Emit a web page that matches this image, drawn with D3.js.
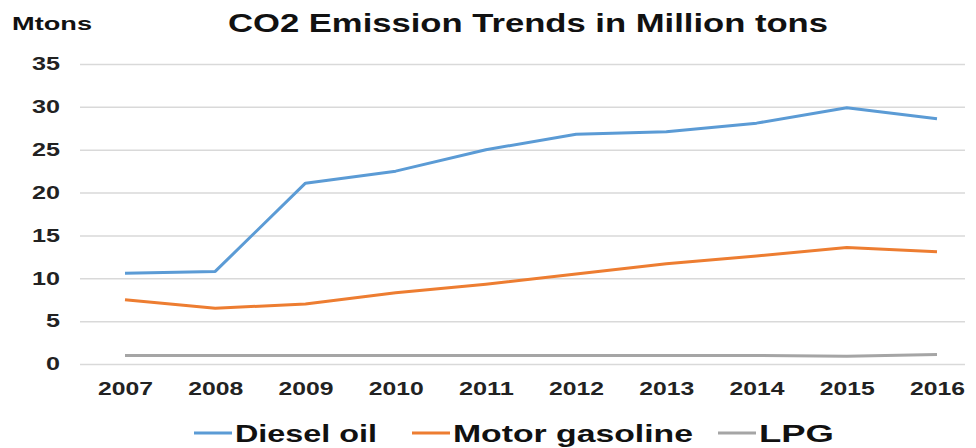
<!DOCTYPE html>
<html>
<head>
<meta charset="utf-8">
<script src="https://cdn.jsdelivr.net/npm/d3@7"></script>
<style>
  body { margin: 0; background: #fff; }
  text { font-family: "Liberation Sans", Arial, sans-serif; }
</style>
</head>
<body>
<svg id="svg" width="976" height="448"></svg>
<script>
const years = ['2007', '2008', '2009', '2010', '2011', '2012', '2013', '2014', '2015', '2016']
const diesel = [10.6, 10.8, 21.1, 22.5, 25.0, 26.8, 27.1, 28.1, 29.9, 28.6]
const gasoline = [7.5, 6.5, 7.0, 8.3, 9.3, 10.5, 11.7, 12.6, 13.6, 13.1]
const lpg = [1.0, 1.0, 1.0, 1.0, 1.0, 1.0, 1.0, 1.0, 0.9, 1.1]
const yTicks = [0, 5, 10, 15, 20, 25, 30, 35]
const seriesNames = ['Diesel oil', 'Motor gasoline', 'LPG']
const seriesColors = ['#5b9bd5', '#ed7d31', '#a5a5a5']

const $svg = d3.select('#svg')

const xScale = d3.scalePoint()
  .domain(years)
  .range([125, 937])

const yScale = d3.scaleLinear()
  .domain([0, 35])
  .range([364, 64])

// gridlines + y labels
const yAxis = $svg.append('g')
  .attr('transform', 'translate(80,0)')
  .call(d3.axisLeft(yScale).tickValues(yTicks).tickSize(-885).tickPadding(20))
yAxis.select('.domain').remove()
yAxis.selectAll('.tick line').attr('stroke', '#d9d9d9').attr('stroke-width', 1.5)
yAxis.selectAll('.tick text')
  .attr('fill', '#222')
  .attr('textLength', d => String(d).length * 14)
  .attr('lengthAdjust', 'spacingAndGlyphs')
  .style('font-size', '18px')
  .style('font-weight', 'bold')

// x labels
const xAxis = $svg.append('g')
  .attr('transform', 'translate(0,364)')
  .call(d3.axisBottom(xScale).tickSize(0).tickPadding(18))
xAxis.select('.domain').remove()
xAxis.selectAll('.tick text')
  .attr('fill', '#222')
  .attr('textLength', 55)
  .attr('lengthAdjust', 'spacingAndGlyphs')
  .style('font-size', '18px')
  .style('font-weight', 'bold')

const line = d3.line()
  .x((d, i) => xScale(years[i]))
  .y(d => yScale(d))

;[diesel, gasoline, lpg].forEach((values, i) => {
  $svg.append('path')
    .datum(values)
    .attr('d', line)
    .attr('fill', 'none')
    .attr('stroke', seriesColors[i])
    .attr('stroke-width', 3)
    .attr('stroke-linejoin', 'round')
})

// titles
$svg.append('text')
  .attr('x', 228).attr('y', 32)
  .attr('textLength', 600).attr('lengthAdjust', 'spacingAndGlyphs')
  .style('font-size', '25px').style('font-weight', 'bold')
  .attr('fill', '#111')
  .text('CO2 Emission Trends in Million tons')

$svg.append('text')
  .attr('x', 12).attr('y', 30)
  .attr('textLength', 80).attr('lengthAdjust', 'spacingAndGlyphs')
  .style('font-size', '19px').style('font-weight', 'bold')
  .attr('fill', '#111')
  .text('Mtons')

// legend
const legendX = [194, 412, 718]
const legendW = [142, 240, 75]
const legend = $svg.append('g')
seriesNames.forEach((name, i) => {
  legend.append('line')
    .attr('x1', legendX[i]).attr('x2', legendX[i] + 38)
    .attr('y1', 433).attr('y2', 433)
    .attr('stroke', seriesColors[i]).attr('stroke-width', 3)
  legend.append('text')
    .attr('x', legendX[i] + 41).attr('y', 442)
    .attr('textLength', legendW[i]).attr('lengthAdjust', 'spacingAndGlyphs')
    .style('font-size', '24px').style('font-weight', 'bold')
    .attr('fill', '#111')
    .text(name)
})
</script>
</body>
</html>
